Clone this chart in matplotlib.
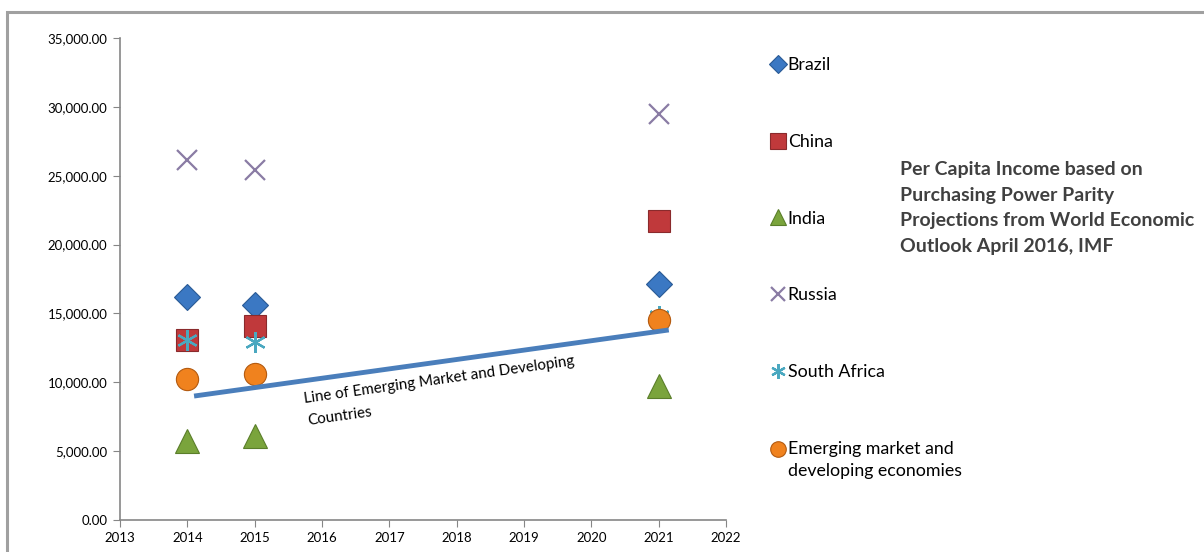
import matplotlib
matplotlib.use("Agg")
import matplotlib.pyplot as plt
from matplotlib.patches import Rectangle
from matplotlib.ticker import FuncFormatter
from matplotlib.legend_handler import HandlerLine2D
from matplotlib.transforms import Affine2D

plt.rcParams['font.family'] = ['Lato', 'DejaVu Sans']

# values (PPP per capita income)
years = [2014, 2015, 2021]
brazil = [16200, 15600, 17150]
china = [13100, 14100, 21700]
india = [5750, 6100, 9750]
russia = [26150, 25400, 29500]
south_africa = [13100, 12900, 14800]
emerging = [10250, 10600, 14500]

# the hand drawn trend line
line_years = [2014.1, 2021.15]
line_vals = [9000, 13800]

series = [
    ("Brazil", brazil, dict(marker="D", ms=13, mfc="#3b78c3", mec="#2a5a95", mew=0.8)),
    ("China", china, dict(marker="s", ms=16, mfc="#c0393b", mec="#8a2a2c", mew=0.8)),
    ("India", india, dict(marker="^", ms=17, mfc="#7aa43c", mec="#5a7e2a", mew=0.8)),
    ("Russia", russia, dict(marker="x", ms=15, mfc="none", mec="#8a7ca4", mew=1.6)),
    ("South Africa", south_africa, dict(marker=(6, 2, 0), ms=15, mfc="none", mec="#4aa8c0", mew=1.6)),
    ("Emerging market and\ndeveloping economies", emerging,
     dict(marker="o", ms=16, mfc="#f0821e", mec="#b35a10", mew=0.8)),
]


class HandlerFirstLine(HandlerLine2D):
    """puts the legend marker next to the first line of a two line label"""
    def create_artists(self, legend, orig_handle, xdescent, ydescent, width, height,
                       fontsize, trans):
        trans = Affine2D().translate(0, 0.65 * fontsize) + trans
        return super().create_artists(legend, orig_handle, xdescent, ydescent, width,
                                      height, fontsize, trans)


fig = plt.figure(figsize=(12.04, 5.52), dpi=100)
ax = fig.add_axes([120 / 1204, 1 - 520 / 552, 606 / 1204, 482 / 552])

# outer chart frame, cut off at right and bottom like the screenshot
fig.patches.append(Rectangle((7 / 1204, -0.1), 1.2, 1.1 - 12 / 552, transform=fig.transFigure,
                             fill=False, ec="#a0a0a0", lw=2.2))

handles = []
for name, vals, style in series:
    h, = ax.plot(years, vals, ls="none", label=name, **style, zorder=3)
    handles.append(h)

ax.plot(line_years, line_vals, color="#4a7ebb", lw=3.5, solid_capstyle="butt", zorder=4)
ax.text(2015.72, 9300, "Line of Emerging Market and Developing\nCountries", rotation=8,
        rotation_mode="anchor", ha="left", va="top", fontsize=10.9, linespacing=1.8)

ax.set_xlim(2013, 2022)
ax.set_ylim(0, 35000)
ax.set_xticks(range(2013, 2023))
ax.set_yticks(range(0, 35001, 5000))
ax.yaxis.set_major_formatter(FuncFormatter(lambda v, p: "{:,.2f}".format(v)))
for s in ["top", "right"]:
    ax.spines[s].set_visible(False)
for s in ["left", "bottom"]:
    ax.spines[s].set_color("#868686")
    ax.spines[s].set_linewidth(1.2)
ax.tick_params(direction="out", length=5, color="#868686", labelsize=9.5, pad=4)

leg = fig.legend(handles=handles, loc="upper left", bbox_to_anchor=(769 / 1204, 1 - 57 / 552),
                 frameon=False, fontsize=12.8, labelspacing=3.42, handlelength=1.0,
                 handletextpad=0.05, borderpad=0, borderaxespad=0, markerscale=0.7,
                 handler_map={handles[-1]: HandlerFirstLine()})
for t in leg.get_texts():
    t.set_linespacing(1.45)

fig.text(900 / 1204, 1 - 161 / 552,
         "Per Capita Income based on\nPurchasing Power Parity\nProjections from World Economic\nOutlook April 2016, IMF",
         ha="left", va="top", fontsize=14, fontweight="bold", color="#404040", linespacing=1.62)

fig.savefig("out.png", dpi=100)
